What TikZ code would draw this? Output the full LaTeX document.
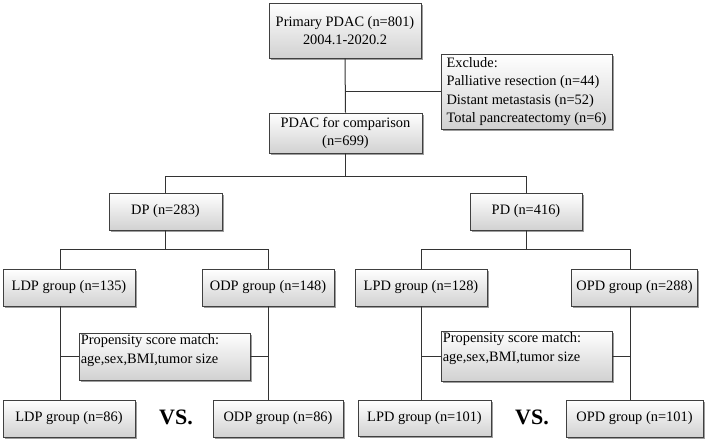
\documentclass[tikz,border=0pt]{standalone}
\usepackage{fontspec}
\setmainfont{Liberation Serif}
\usetikzlibrary{positioning,calc,shadows}

\tikzset{
  box/.style={draw=black!75,line width=0.8pt,top color=white,bottom color=black!18,
    drop shadow={shadow xshift=1.6pt,shadow yshift=-1.6pt,fill=black!55,opacity=0.7},
    inner sep=2pt,font=\fontsize{14.4}{18.3}\selectfont},
  boxtext/.style={anchor=north west,inner sep=2pt,align=left,font=\fontsize{14.4}{18.3}\selectfont},
  link/.style={draw=black!80,line width=1pt},
  vs/.style={font=\fontsize{22}{22}\selectfont\bfseries}
}

\begin{document}
\begin{tikzpicture}[x=1pt,y=-1pt]
    \useasboundingbox (0,0) rectangle (709,440);
    % top of the chart
    \node[box,minimum width=152,minimum height=55,align=center] (prim) at (345,30.5)
      {Primary PDAC (n=801)\\2004.1-2020.2};
    \node[box,minimum width=171,minimum height=75,align=left] (excl) at (526.5,91.5)
      {Exclude:\\Palliative resection (n=44)\\Distant metastasis (n=52)\\Total pancreatectomy (n=6)};
    \node[box,minimum width=153,minimum height=40,align=center] (comp) at (345.5,133)
      {PDAC for comparison\\(n=699)};
    \node[box,minimum width=113,minimum height=37] (dp) at (165.5,211.5) {DP (n=283)};
    \node[box,minimum width=112,minimum height=37] (pd) at (526,211.5) {PD (n=416)};

    % DP side
    \node[box,minimum width=132,minimum height=37] (ldp) at (69,287.5) {LDP group (n=135)};
    \node[box,minimum width=132,minimum height=37] (odp) at (268,287.5) {ODP group (n=148)};
    \node[box,minimum width=171,minimum height=47] (psmdp) at (164.5,356.5) {};
    \node[boxtext] at (psmdp.north west) {Propensity score match:\\age,sex,BMI,tumor size};
    \node[box,minimum width=132,minimum height=37] (ldpm) at (69,418.5) {LDP group (n=86)};
    \node[box,minimum width=130,minimum height=37] (odpm) at (278,418.5) {ODP group (n=86)};
    \node[vs] (vsdp) at (176,417) {VS.};

    % PD side
    \node[box,minimum width=132,minimum height=37] (lpd) at (421,287.5) {LPD group (n=128)};
    \node[box,minimum width=126,minimum height=37] (opd) at (634.5,287.5) {OPD group (n=288)};
    \node[box,minimum width=171,minimum height=50] (psmpd) at (526.5,356) {};
    \node[boxtext] at (psmpd.north west) {Propensity score match:\\age,sex,BMI,tumor size};
    \node[box,minimum width=133,minimum height=36] (lpdm) at (424.5,418.5) {LPD group (n=101)};
    \node[box,minimum width=137,minimum height=37] (opdm) at (634.5,418.5) {OPD group (n=101)};
    \node[vs] (vspd) at (532,417) {VS.};

    % connectors
    \draw[link] (prim.south) -- (comp.north);
    \draw[link] (prim.south |- excl.west) -- (excl.west);
    \draw[link] (comp.south) -- ++(0,23) coordinate (split);
    \draw[link] (dp.north) |- (split) -| (pd.north);

    \draw[link] (dp.south) -- ++(0,19) coordinate (dpsplit);
    \draw[link] ([xshift=-9pt]ldp.north) |- (dpsplit) -| (odp.north);
    \draw[link] ([xshift=-9pt]ldp.south) -- ([xshift=-9pt]ldpm.north);
    \draw[link] (odp.south) -- (odp.south |- odpm.north);
    \draw[link] ([xshift=-9pt]ldp.south |- psmdp.west) -- (psmdp.west);
    \draw[link] (psmdp.east) -- (psmdp.east -| odp.south);

    \draw[link] (pd.south) -- ++(0,19) coordinate (pdsplit);
    \draw[link] (lpd.north) |- (pdsplit) -| ([xshift=-4.5pt]opd.north);
    \draw[link] (lpd.south) -- (lpd.south |- lpdm.north);
    \draw[link] ([xshift=-4.5pt]opd.south) -- ([xshift=-4.5pt]opd.south |- opdm.north);
    \draw[link] (lpd.south |- psmpd.west) -- (psmpd.west);
    \draw[link] (psmpd.east) -- ([xshift=-4.5pt]opd.south |- psmpd.east);
  \end{tikzpicture}
\end{document}
